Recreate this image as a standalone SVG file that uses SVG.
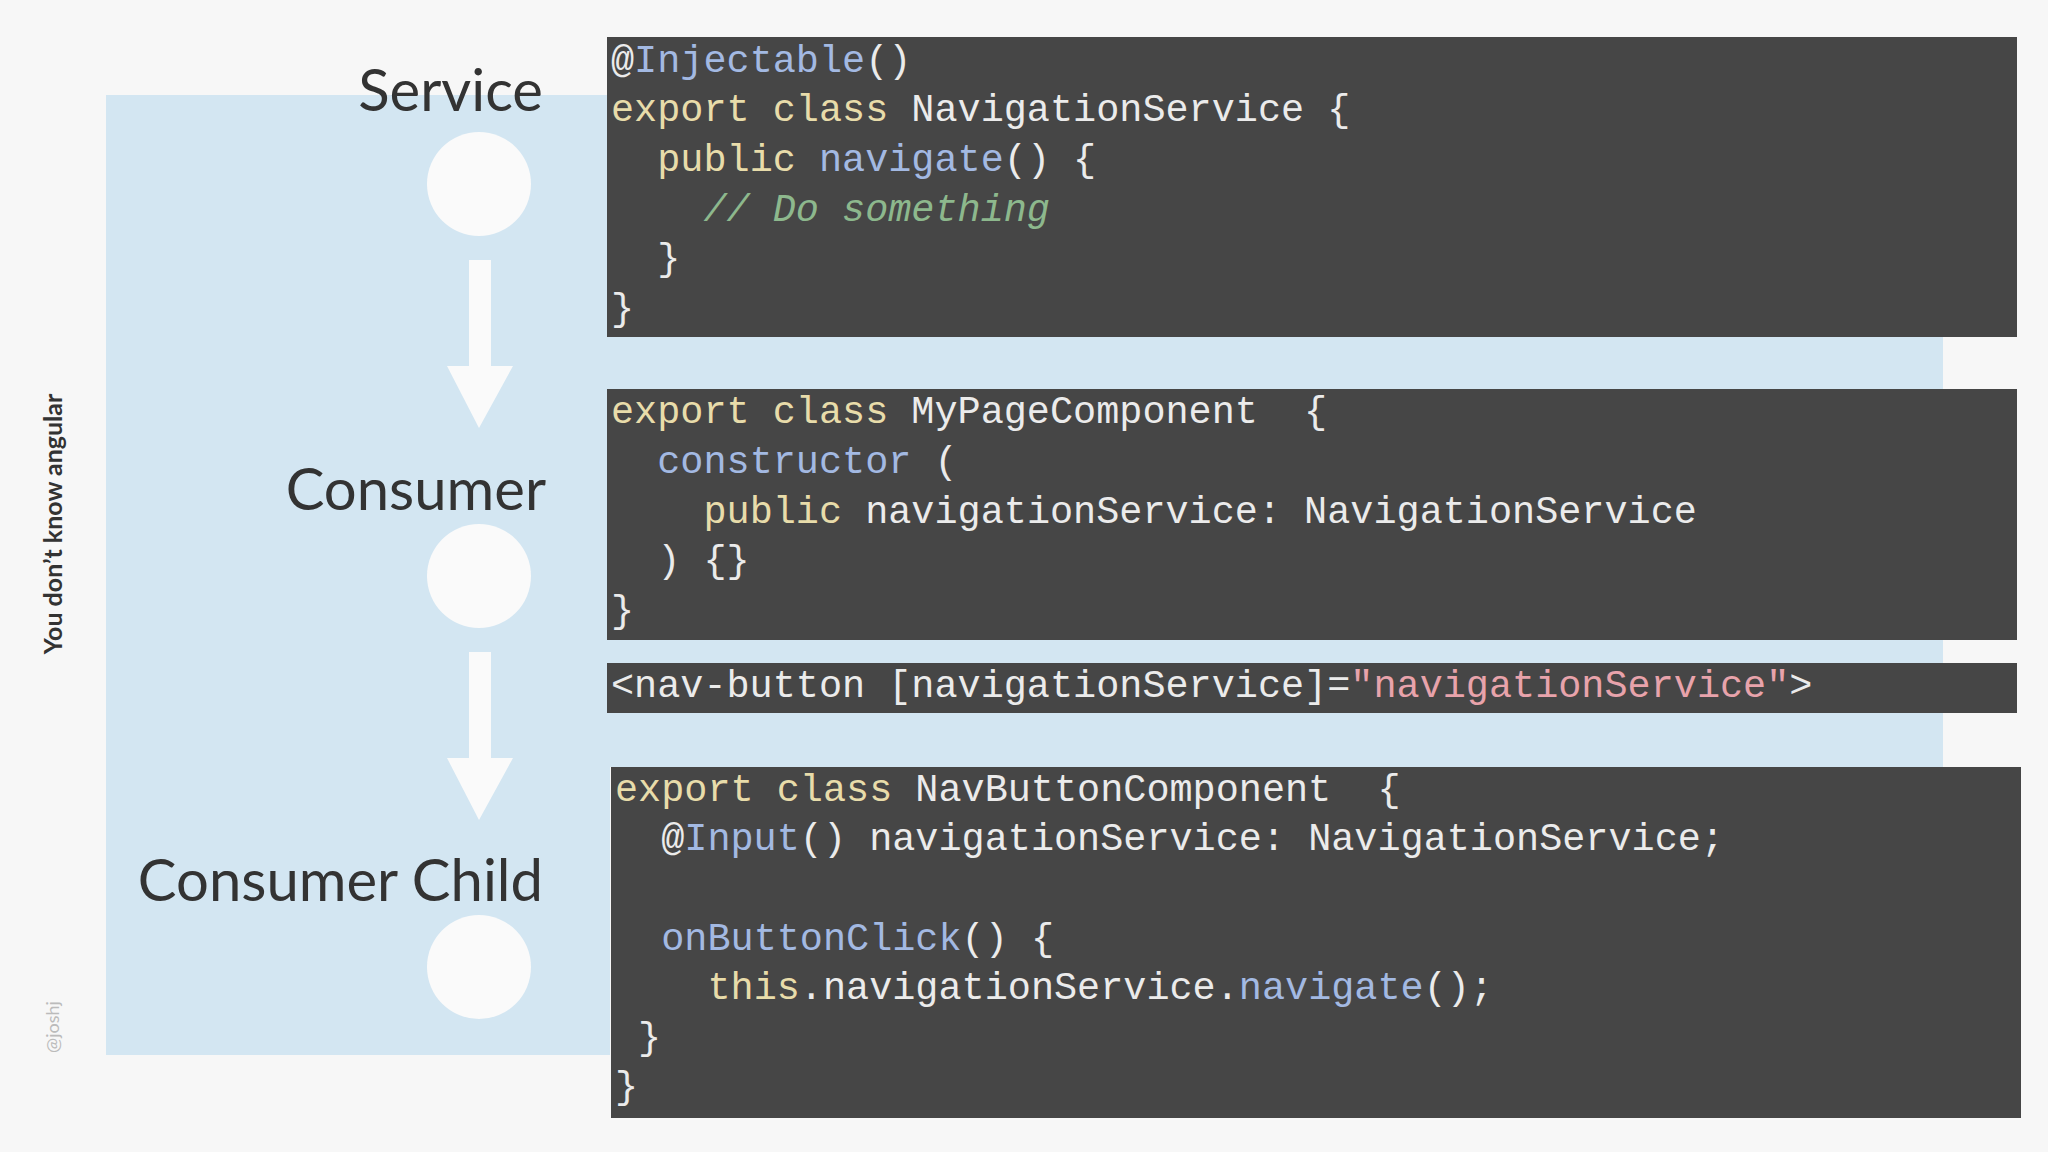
<svg xmlns="http://www.w3.org/2000/svg" width="2048" height="1152" viewBox="0 0 2048 1152">
<style>
.code{font-family:"Liberation Mono","DejaVu Sans Mono",monospace;font-size:38.5px;fill:#ebebeb;white-space:pre}
.k{fill:#e8dcaa}.f{fill:#a3b9e2}.c{fill:#8db88d;font-style:italic}.s{fill:#e8a3ab}
.lbl{font-family:"Lato","Open Sans",sans-serif;font-size:58px;fill:#333;text-anchor:end}
.box{fill:#464646}
.circ{fill:#fafafa}
.arr{fill:#fafafa}
</style>
<rect width="2048" height="1152" fill="#f7f7f7"/>
<path d="M106 95H1943V767H610V1055H106Z" fill="#d3e6f2"/>
<g id="labels">
<text class="lbl" x="543" y="111">Service</text>
<text class="lbl" x="546" y="510">Consumer</text>
<text class="lbl" x="543" y="901">Consumer Child</text>
<text transform="translate(62,524) rotate(-90)" text-anchor="middle" font-family="Lato,'Open Sans',sans-serif" font-weight="bold" font-size="25" fill="#333">You don’t know angular</text>
<text transform="translate(59,1027) rotate(-90)" text-anchor="middle" font-family="Lato,'Open Sans',sans-serif" font-size="18" fill="#bbb">@joshj</text>
</g>
<g id="service"><circle class="circ" cx="479" cy="184" r="52"/></g>
<g id="consumer"><circle class="circ" cx="479" cy="576" r="52"/></g>
<g id="child"><circle class="circ" cx="479" cy="967" r="52"/></g>
<g id="connectors">
<path class="arr" d="M469 260H491V366H513L479 428L447 366H469Z"/>
<path class="arr" d="M469 652H491V758H513L479 820L447 758H469Z"/>
</g>
<g id="code1">
<rect class="box" x="607" y="37" width="1410" height="300"/>
<text class="code" x="611" y="72">@<tspan class="f">Injectable</tspan>()</text>
<text class="code" x="611" y="121"><tspan class="k">export class</tspan> NavigationService {</text>
<text class="code" x="611" y="171">  <tspan class="k">public</tspan> <tspan class="f">navigate</tspan>() {</text>
<text class="code" x="611" y="221">    <tspan class="c">// Do something</tspan></text>
<text class="code" x="611" y="270">  }</text>
<text class="code" x="611" y="320">}</text>
</g>
<g id="code2">
<rect class="box" x="607" y="389" width="1410" height="251"/>
<text class="code" x="611" y="423"><tspan class="k">export class</tspan> MyPageComponent  {</text>
<text class="code" x="611" y="473">  <tspan class="f">constructor</tspan> (</text>
<text class="code" x="611" y="523">    <tspan class="k">public</tspan> navigationService: NavigationService</text>
<text class="code" x="611" y="572">  ) {}</text>
<text class="code" x="611" y="622">}</text>
</g>
<g id="code3">
<rect class="box" x="607" y="663" width="1410" height="50"/>
<text class="code" x="611" y="697">&lt;nav-button [navigationService]=<tspan class="s">"navigationService"</tspan>&gt;</text>
</g>
<g id="code4">
<rect class="box" x="611" y="767" width="1410" height="351"/>
<text class="code" x="615" y="801"><tspan class="k">export class</tspan> NavButtonComponent  {</text>
<text class="code" x="615" y="850">  @<tspan class="f">Input</tspan>() navigationService: NavigationService;</text>
<text class="code" x="615" y="950">  <tspan class="f">onButtonClick</tspan>() {</text>
<text class="code" x="615" y="999">    <tspan class="k">this</tspan>.navigationService.<tspan class="f">navigate</tspan>();</text>
<text class="code" x="615" y="1049"> }</text>
<text class="code" x="615" y="1098">}</text>
</g>
</svg>
